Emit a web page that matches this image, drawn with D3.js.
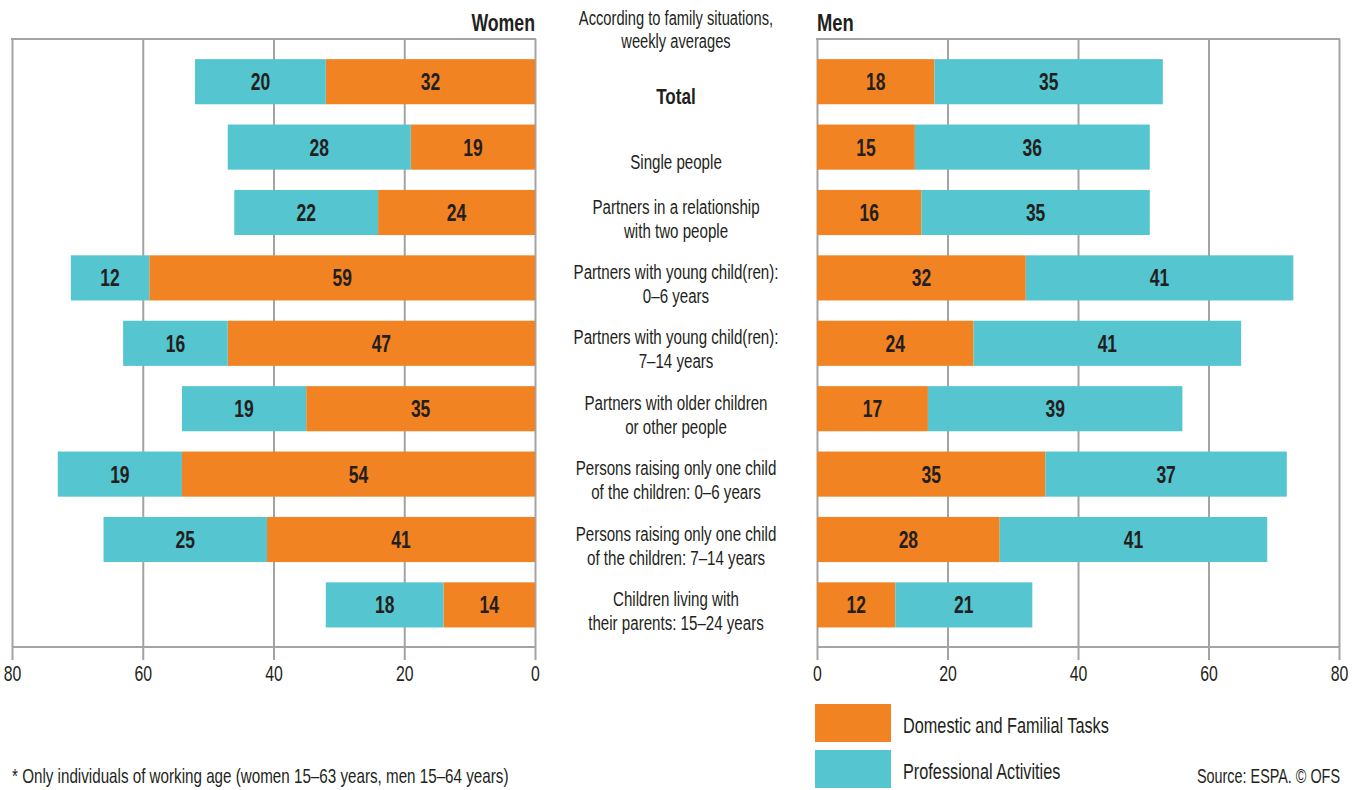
<!DOCTYPE html>
<html>
<head>
<meta charset="utf-8">
<script src="https://cdn.jsdelivr.net/npm/d3@7"></script>
<style>
  body { margin: 0; background: #fff; }
  text { font-family: "Liberation Sans", Arial, sans-serif; fill: #231f20; }
</style>
</head>
<body>
<div id="diagram"></div>
<script>
// category labels (two lines where the original wraps)
const categories = [
  ["Total"],
  ["Single people"],
  ["Partners in a relationship", "with two people"],
  ["Partners with young child(ren):", "0–6 years"],
  ["Partners with young child(ren):", "7–14 years"],
  ["Partners with older children", "or other people"],
  ["Persons raising only one child", "of the children: 0–6 years"],
  ["Persons raising only one child", "of the children: 7–14 years"],
  ["Children living with", "their parents: 15–24 years"]
];

const womenDomestic = [32, 19, 24, 59, 47, 35, 54, 41, 14];
const womenProfessional = [20, 28, 22, 12, 16, 19, 19, 25, 18];
const menDomestic = [18, 15, 16, 32, 24, 17, 35, 28, 12];
const menProfessional = [35, 36, 35, 41, 41, 39, 37, 41, 21];

const tickValues = [0, 20, 40, 60, 80];
const seriesNames = ["Domestic and Familial Tasks", "Professional Activities"];
const colors = { domestic: "#f28322", professional: "#55c5cf" };

const width = 1359, height = 790;
const frameTop = 39, axisY = 647, gridBottom = 660;
const gridColor = "#a3a3a5";
const textGrey = "#3a3a3c";

var svg = d3.select("#diagram").append("svg")
  .attr("width", width)
  .attr("height", height);

// the original uses a condensed face; squeeze the text horizontally
function squeeze(sel, sx) {
  sel.each(function() {
    var t = d3.select(this);
    var tx = +t.attr("x") || 0, ty = +t.attr("y") || 0;
    t.attr("x", null).attr("y", null)
      .attr("transform", "translate(" + tx + "," + ty + ") scale(" + sx + ",1)");
  });
}

var y = d3.scaleBand()
  .domain(d3.range(categories.length))
  .range([49, 637.6])
  .paddingInner(0.31)
  .paddingOuter(0.155);

// women: 80 on the left, 0 on the right
var xW = d3.scaleLinear().domain([80, 0]).range([12, 535]);
// men: 0 on the left, 80 on the right
var xM = d3.scaleLinear().domain([0, 80]).range([817, 1339]);

function drawFrame(x) {
  var g = svg.append("g").attr("transform", "translate(0," + frameTop + ")");
  g.call(d3.axisBottom(x)
    .tickValues(tickValues)
    .tickSize(gridBottom - frameTop)
    .tickPadding(5));
  g.select(".domain").remove();
  g.selectAll(".tick line").attr("stroke", gridColor).attr("stroke-width", 2);
  g.selectAll(".tick text")
    .style("font-size", "22px")
    .style("font-family", null)
    .attr("fill", "#231f20")
    .attr("transform", "scale(0.72,1)");

  var r = x.range();
  svg.append("line")
    .attr("x1", d3.min(r) - 1).attr("x2", d3.max(r) + 1)
    .attr("y1", frameTop).attr("y2", frameTop)
    .attr("stroke", gridColor).attr("stroke-width", 2);
  svg.append("line")
    .attr("x1", d3.min(r)).attr("x2", d3.max(r))
    .attr("y1", axisY).attr("y2", axisY)
    .attr("stroke", gridColor).attr("stroke-width", 2);
}

drawFrame(xW);
drawFrame(xM);

// stacked bars: domestic from 0, professional stacked after it
function drawBars(x, domestic, professional) {
  var segs = [];
  domestic.forEach(function(d, i) {
    segs.push({ i: i, x0: 0, x1: d, v: d, color: colors.domestic });
    segs.push({ i: i, x0: d, x1: d + professional[i], v: professional[i], color: colors.professional });
  });

  svg.append("g").selectAll("rect")
    .data(segs)
    .enter().append("rect")
    .attr("x", function(d) { return Math.min(x(d.x0), x(d.x1)); })
    .attr("width", function(d) { return Math.abs(x(d.x1) - x(d.x0)); })
    .attr("y", function(d) { return y(d.i); })
    .attr("height", y.bandwidth())
    .attr("fill", function(d) { return d.color; });

  svg.append("g").selectAll("text")
    .data(segs)
    .enter().append("text")
    .attr("x", function(d) { return (x(d.x0) + x(d.x1)) / 2; })
    .attr("y", function(d) { return y(d.i) + y.bandwidth() / 2 + 8.5; })
    .attr("text-anchor", "middle")
    .style("font-size", "23px")
    .style("font-weight", "bold")
    .text(function(d) { return d.v; })
    .call(squeeze, 0.76);
}

drawBars(xW, womenDomestic, womenProfessional);
drawBars(xM, menDomestic, menProfessional);

// panel titles
svg.append("text")
  .attr("x", 535).attr("y", 31)
  .attr("text-anchor", "end")
  .style("font-size", "23px").style("font-weight", "bold")
  .text("Women")
  .call(squeeze, 0.77);
svg.append("text")
  .attr("x", 817).attr("y", 31)
  .style("font-size", "23px").style("font-weight", "bold")
  .text("Men")
  .call(squeeze, 0.8);

// centre heading
var centerX = 676;
svg.selectAll(".heading")
  .data(["According to family situations,", "weekly averages"])
  .enter().append("text")
  .attr("class", "heading")
  .attr("x", centerX)
  .attr("y", function(d, i) { return 25 + i * 23; })
  .attr("text-anchor", "middle")
  .style("font-size", "21px")
  .attr("fill", textGrey)
  .text(function(d) { return d; })
  .call(squeeze, 0.7);

// category labels: one text per line; single lines sit near the second-line baseline
var lines = [];
categories.forEach(function(c, i) {
  c.forEach(function(s, j) {
    lines.push({ i: i, text: s, single: c.length === 1, line: j });
  });
});

svg.append("g").selectAll("text")
  .data(lines)
  .enter().append("text")
  .attr("x", centerX)
  .attr("y", function(d) {
    var cy = y(d.i) + y.bandwidth() / 2;
    return d.single ? cy + 22 : cy + 1 + d.line * 24;
  })
  .attr("text-anchor", "middle")
  .attr("fill", function(d) { return d.i === 0 ? "#231f20" : textGrey; })
  .style("font-size", function(d) { return d.i === 0 ? "22px" : "21px"; })
  .style("font-weight", function(d) { return d.i === 0 ? "bold" : "normal"; })
  .text(function(d) { return d.text; })
  .each(function(d) {
    d3.select(this).call(squeeze, d.i === 0 ? 0.78 : 0.72);
  });

// legend
var legend = svg.append("g").selectAll("g")
  .data(seriesNames)
  .enter().append("g")
  .attr("transform", function(d, i) { return "translate(815," + (704 + i * 46) + ")"; });
legend.append("rect")
  .attr("width", 76).attr("height", 38)
  .attr("fill", function(d, i) { return i === 0 ? colors.domestic : colors.professional; });
legend.append("text")
  .attr("x", 88).attr("y", 29)
  .style("font-size", "22px")
  .attr("fill", textGrey)
  .text(function(d) { return d; })
  .call(squeeze, 0.74);

// footnote + source
svg.append("text")
  .attr("x", 12).attr("y", 783)
  .style("font-size", "20px")
  .attr("fill", textGrey)
  .text("* Only individuals of working age (women 15–63 years, men 15–64 years)")
  .call(squeeze, 0.76);
svg.append("text")
  .attr("x", 1340).attr("y", 783)
  .attr("text-anchor", "end")
  .style("font-size", "20px")
  .attr("fill", textGrey)
  .text("Source: ESPA. © OFS")
  .call(squeeze, 0.72);
</script>
</body>
</html>
